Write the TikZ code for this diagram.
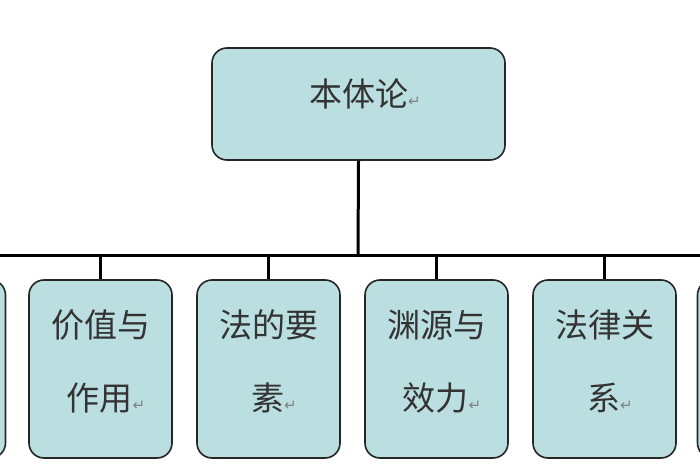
\documentclass[tikz,border=0pt]{standalone}
\usepackage{fontspec}
\newfontfamily\cjk{Noto Sans CJK SC}
\newfontfamily\dv{DejaVu Sans}
\definecolor{boxfill}{HTML}{BBDFE1}
\definecolor{txt}{HTML}{333333}
\tikzset{
  card/.style={draw=black!85, line width=1.6pt, rounded corners=15pt, fill=boxfill, inner sep=0pt},
  lbl/.style={font=\cjk\fontsize{33}{33}\selectfont, text=txt, align=center},
  wire/.style={line width=3pt, draw=black},
}
\newcommand{\ret}{{\dv\fontsize{15}{15}\selectfont\textcolor{gray}{↵}}}
\begin{document}
\begin{tikzpicture}[x=1pt,y=-1pt]
\path[use as bounding box] (0,0) rectangle (700,470);
\clip (0,0) rectangle (700,470);
\fill[white] (0,0) rectangle (700,470);
\node[card, minimum width=293pt, minimum height=112pt] (top) at (358.5,104) {};
\node[lbl] at (365,94) {本体论\ret};
\coordinate (j) at (358,255);
\coordinate (l) at (-5,255);
\coordinate (r) at (705,255);
\draw[wire] (top.south) -- (j);
\draw[wire] (l) -- (r);
\foreach \n/\x in {b0/-66, b1/100.5, b2/268.5, b3/436.5, b4/604.5, b5/769}{
  \node[card, minimum width=143pt, minimum height=178pt] (\n) at (\x,369) {};
  \coordinate (t\n) at (\x,255);
  \draw[wire] (t\n) -- (\n.north);
}
\node[lbl] at (100.5,325) {价值与};
\node[lbl] at (106,398) {作用\ret};
\node[lbl] at (268.5,325) {法的要};
\node[lbl] at (274,398) {素\ret};
\node[lbl] at (436.5,325) {渊源与};
\node[lbl] at (442,398) {效力\ret};
\node[lbl] at (604.5,325) {法律关};
\node[lbl] at (610,398) {系\ret};
\end{tikzpicture}
\end{document}
